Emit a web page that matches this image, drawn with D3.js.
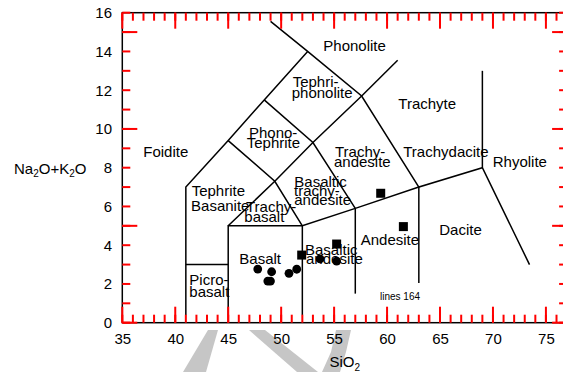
<!DOCTYPE html>
<html>
<head>
<meta charset="utf-8">
<script src="https://cdn.jsdelivr.net/npm/d3@7"></script>
<style>
  body { margin: 0; background: #fff; }
  svg { display: block; font-family: "Liberation Sans", Arial, sans-serif; }
  .tick text { font-size: 15px; fill: #000; font-family: "Liberation Sans", Arial, sans-serif; }
  .domain { display: none; }
</style>
</head>
<body>
<script>
// TAS diagram (SiO2 vs Na2O+K2O)

// sample points (wt%)
var circleSi  = [47.79, 49.1, 48.74, 48.99, 50.74, 51.47, 53.67, 55.24],
    circleAlk = [2.77, 2.63, 2.15, 2.15, 2.55, 2.76, 3.29, 3.18];

var squareSi  = [51.94, 55.24, 59.40, 61.54],
    squareAlk = [3.49, 4.06, 6.68, 4.96];

// field boundaries, each one polyline of [SiO2, alkali]
var boundaries = [
	[[41, 0.4], [41, 7], [45, 9.4], [48.4, 11.5], [52.5, 14]],
	[[49, 15.55], [52.5, 14], [57.6, 11.7], [63, 7], [69, 8], [73.45, 3]],
	[[57.6, 11.7], [61, 13.55]],
	[[69, 8], [69, 13]],
	[[41, 3], [45, 3]],
	[[45, 0.4], [45, 5], [52, 5], [57, 5.9], [63, 7]],
	[[52, 0.4], [52, 5]],
	[[57, 1.5], [57, 5.9]],
	[[63, 2.05], [63, 7]],
	[[45, 5], [49.4, 7.3], [53, 9.3], [57.6, 11.7]],
	[[45, 9.4], [49.4, 7.3], [52, 5]],
	[[48.4, 11.5], [53, 9.3], [57, 5.9]]
];

// field names, one entry per text line (left edge / baseline in data units)
var labelText = ['Foidite', 'Phonolite', 'Tephri-', 'phonolite', 'Phono-', 'Tephrite',
                 'Trachyte', 'Trachy-', 'andesite', 'Trachydacite', 'Rhyolite',
                 'Tephrite', 'Basanite', 'Trachy-', 'basalt', 'Basaltic', 'trachy-', 'andesite',
                 'Basalt', 'Picro-', 'basalt', 'Basaltic', 'andesite', 'Andesite', 'Dacite'],
    labelSi   = [36.98, 53.98, 51.09, 51.0, 46.96, 46.75,
                 61.06, 55.08, 54.99, 61.53, 69.98,
                 41.55, 41.49, 46.68, 46.52, 51.24, 51.21, 51.24,
                 46.05, 41.33, 41.33, 52.25, 52.35, 57.51, 64.93],
    labelAlk  = [8.54, 14.04, 12.15, 11.58, 9.53, 9.02,
                 11.03, 8.54, 8.05, 8.57, 8.02,
                 6.55, 5.77, 5.73, 5.21, 7.02, 6.54, 6.07,
                 3.03, 1.97, 1.34, 3.51, 3.01, 4.03, 4.53];

var xMajor  = [35, 40, 45, 50, 55, 60, 65, 70, 75],
    yMajor  = [0, 5, 10, 15],
    yLabels = [0, 2, 4, 6, 8, 10, 12, 14, 16];

var width  = 563,
    height = 372;

var x = d3.scaleLinear().domain([35, 77]).range([122.3, 567.1]),
    y = d3.scaleLinear().domain([0, 16]).range([322.7, 12.7]);

var svg = d3.select('body').append('svg')
	.attr('width', width)
	.attr('height', height);

// faint watermark strokes under the x axis
var watermark = [
	[[208, 330], [218, 330], [206, 372], [183, 372]],
	[[249, 330], [265, 330], [318, 372], [297, 372]],
	[[336, 330], [351, 330], [346, 352], [340, 372], [322, 372], [331, 352]]
];
svg.append('g').selectAll('path')
	.data(watermark)
	.enter().append('path')
	.attr('d', function(d){ return 'M' + d.join('L') + 'Z'; })
	.attr('fill', '#c6c6c6');

var xMinor = d3.range(35, 78, 1),
    yMinor = d3.range(0, 17, 1);

var x0 = x.range()[0], x1 = x.range()[1],
    y0 = y.range()[0], y1 = y.range()[1];

// tick labels
svg.append('g').attr('transform', 'translate(0,' + y0 + ')')
	.call(d3.axisBottom(x).tickValues(xMajor).tickSize(0).tickPadding(10.5));
svg.append('g').attr('transform', 'translate(' + x0 + ',0)')
	.call(d3.axisLeft(y).tickValues(yLabels).tickSize(0).tickPadding(10.3));

svg.append('rect')
	.attr('x', x0).attr('y', y1)
	.attr('width', x1 - x0).attr('height', y0 - y1)
	.attr('fill', 'none')
	.attr('stroke', '#000')
	.attr('stroke-width', 1.5);

// field boundaries
var boundaryLine = d3.line()
	.x(function(d){ return x(d[0]); })
	.y(function(d){ return y(d[1]); });

svg.append('g').selectAll('path')
	.data(boundaries)
	.enter().append('path')
	.attr('d', boundaryLine)
	.attr('fill', 'none')
	.attr('stroke', '#000')
	.attr('stroke-width', 1.5);

// field names
svg.append('g').selectAll('text')
	.data(labelText)
	.enter().append('text')
	.attr('x', function(d, i){ return x(labelSi[i]); })
	.attr('y', function(d, i){ return y(labelAlk[i]); })
	.attr('font-size', 15)
	.attr('fill', '#000')
	.text(function(d){ return d; });

// samples
svg.append('g').selectAll('circle')
	.data(circleSi)
	.enter().append('circle')
	.attr('cx', function(d){ return x(d); })
	.attr('cy', function(d, i){ return y(circleAlk[i]); })
	.attr('r', 4.4)
	.attr('fill', '#000');

var sq = 9;
svg.append('g').selectAll('rect')
	.data(squareSi)
	.enter().append('rect')
	.attr('x', function(d){ return x(d) - sq / 2; })
	.attr('y', function(d, i){ return y(squareAlk[i]) - sq / 2; })
	.attr('width', sq)
	.attr('height', sq)
	.attr('fill', '#000');

// axis titles
var yTitle = svg.append('text')
	.attr('x', 14).attr('y', 173.5)
	.attr('font-size', 15)
	.attr('fill', '#000');
yTitle.append('tspan').text('Na');
yTitle.append('tspan').attr('font-size', 10).attr('dy', 3.5).text('2');
yTitle.append('tspan').attr('dy', -3.5).text('O+K');
yTitle.append('tspan').attr('font-size', 10).attr('dy', 3.5).text('2');
yTitle.append('tspan').attr('dy', -3.5).text('O');

var xTitle = svg.append('text')
	.attr('x', (x0 + x1) / 2).attr('y', 367)
	.attr('text-anchor', 'middle')
	.attr('font-size', 15)
	.attr('fill', '#000');
xTitle.append('tspan').text('SiO');
xTitle.append('tspan').attr('font-size', 10).attr('dy', 3.5).text('2');

// inward ticks on all four sides
var tickG = svg.append('g')
	.attr('stroke', 'red')
	.attr('stroke-width', 2);

function xTicks(values, len){
	[[y0, -1], [y1, 1]].forEach(function(side){
		tickG.append('g').selectAll('line')
			.data(values)
			.enter().append('line')
			.attr('x1', function(d){ return x(d); })
			.attr('x2', function(d){ return x(d); })
			.attr('y1', side[0])
			.attr('y2', side[0] + side[1] * len);
	});
}
function yTicks(values, len){
	[[x0, 1], [x1, -1]].forEach(function(side){
		tickG.append('g').selectAll('line')
			.data(values)
			.enter().append('line')
			.attr('y1', function(d){ return y(d); })
			.attr('y2', function(d){ return y(d); })
			.attr('x1', side[0])
			.attr('x2', side[0] + side[1] * len);
	});
}
xTicks(xMinor, 8);
xTicks(xMajor, 16);
yTicks(yMinor, 8);
yTicks(yMajor, 15);

svg.append('text').attr('x', 380).attr('y', 300).attr('font-size', 10)
	.text('lines ' + document.querySelectorAll('line').length);
</script>
</body>
</html>
